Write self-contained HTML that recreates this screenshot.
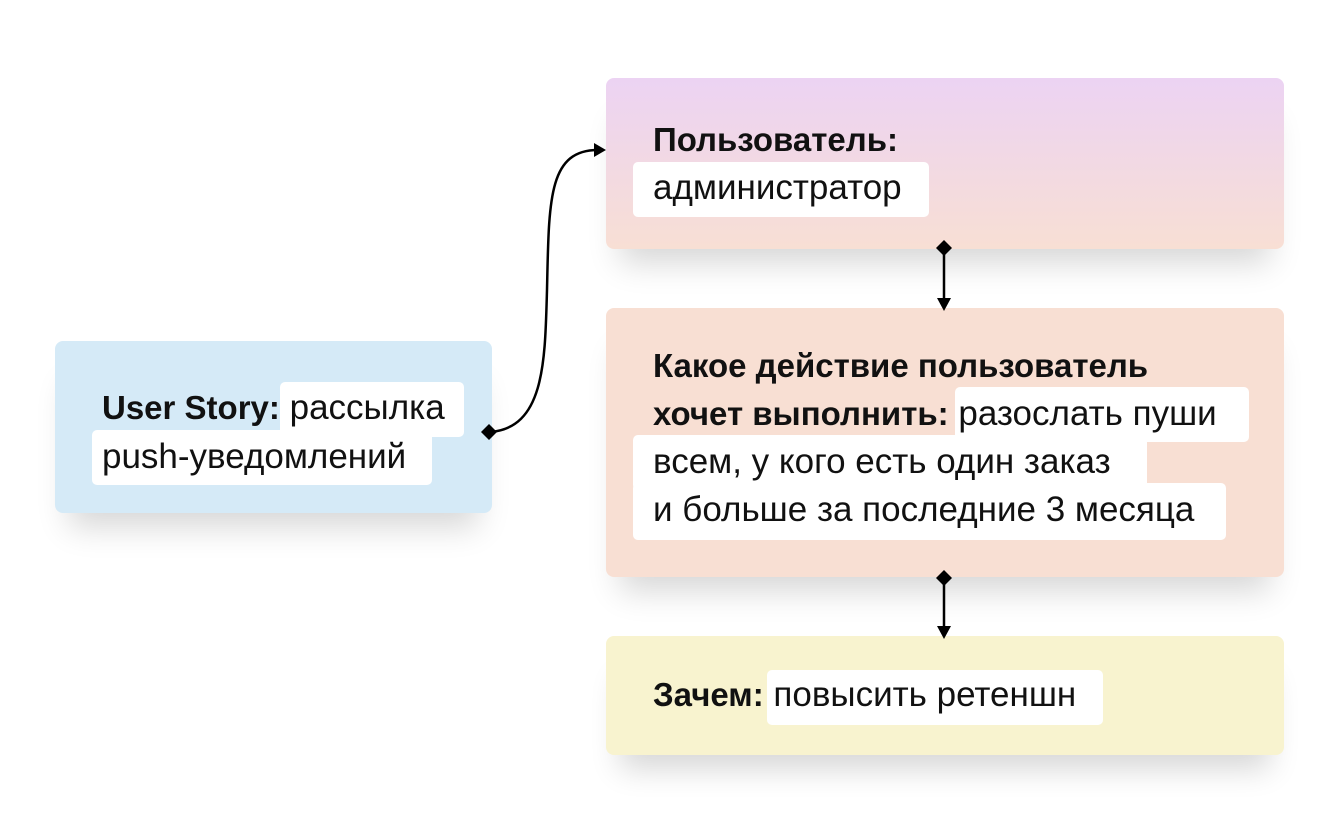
<!DOCTYPE html>
<html><head><meta charset="utf-8"><style>
body{margin:0;width:1340px;height:833px;background:#fff;position:relative;overflow:hidden;font-family:"Liberation Sans","Noto Sans CJK SC",sans-serif;color:#111}
.b{position:absolute;border-radius:8px;box-shadow:0 28px 30px -14px rgba(0,0,0,0.16)}
.w{position:absolute;background:#fff;border-radius:5px}
.t{position:absolute;font-size:35px;white-space:nowrap;line-height:34px}
b{font-weight:bold;font-size:33px}
</style></head><body>
<div class="b" style="left:55px;top:341px;width:437px;height:172px;background:#d5eaf7"></div>
<div class="b" style="left:606px;top:78px;width:678px;height:171px;background:linear-gradient(#ecd3f3,#f8dfd4)"></div>
<div class="b" style="left:606px;top:308px;width:678px;height:269px;background:#f8dfd3"></div>
<div class="b" style="left:606px;top:636px;width:678px;height:119px;background:#f8f3cf"></div>

<div class="w" style="left:633px;top:162px;width:296px;height:55px"></div>
<div class="w" style="left:280px;top:382px;width:184px;height:55px"></div>
<div class="w" style="left:92px;top:430px;width:340px;height:55px"></div>
<div class="w" style="left:955px;top:387px;width:294px;height:55px"></div>
<div class="w" style="left:633px;top:435px;width:514px;height:55px"></div>
<div class="w" style="left:633px;top:483px;width:593px;height:57px"></div>
<div class="w" style="left:767px;top:670px;width:336px;height:55px"></div>

<div class="t" style="left:653px;top:123px"><b>Пользователь:</b></div>
<div class="t" style="left:653px;top:171px">администратор</div>
<div class="t" style="left:102px;top:391px"><b>User Story:</b> рассылка</div>
<div class="t" style="left:102px;top:440px">push-уведомлений</div>
<div class="t" style="left:653px;top:349px"><b>Какое действие пользователь</b></div>
<div class="t" style="left:653px;top:397px"><b>хочет выполнить:</b> разослать пуши</div>
<div class="t" style="left:653px;top:445px">всем, у кого есть один заказ</div>
<div class="t" style="left:653px;top:493px">и больше за последние 3 месяца</div>
<div class="t" style="left:653px;top:678px"><b>Зачем:</b> повысить ретеншн</div>

<svg width="1340" height="833" style="position:absolute;left:0;top:0">
<g fill="#000" stroke="#000" stroke-width="2.5">
<path d="M490,432 C545,428 545,360 547,290 C549,200 548,150 598,150" fill="none"/>
<path d="M606,150 L594,143 L594,157 Z" stroke="none"/>
<path d="M481,432 L489,424 L497,432 L489,440 Z" stroke="none"/>
<line x1="944" y1="248" x2="944" y2="302"/>
<path d="M944,240 L952,248 L944,256 L936,248 Z" stroke="none"/>
<path d="M937,298 L951,298 L944,311 Z" stroke="none"/>
<line x1="944" y1="578" x2="944" y2="630"/>
<path d="M944,570 L952,578 L944,586 L936,578 Z" stroke="none"/>
<path d="M937,626 L951,626 L944,639 Z" stroke="none"/>
</g></svg>
</body></html>
